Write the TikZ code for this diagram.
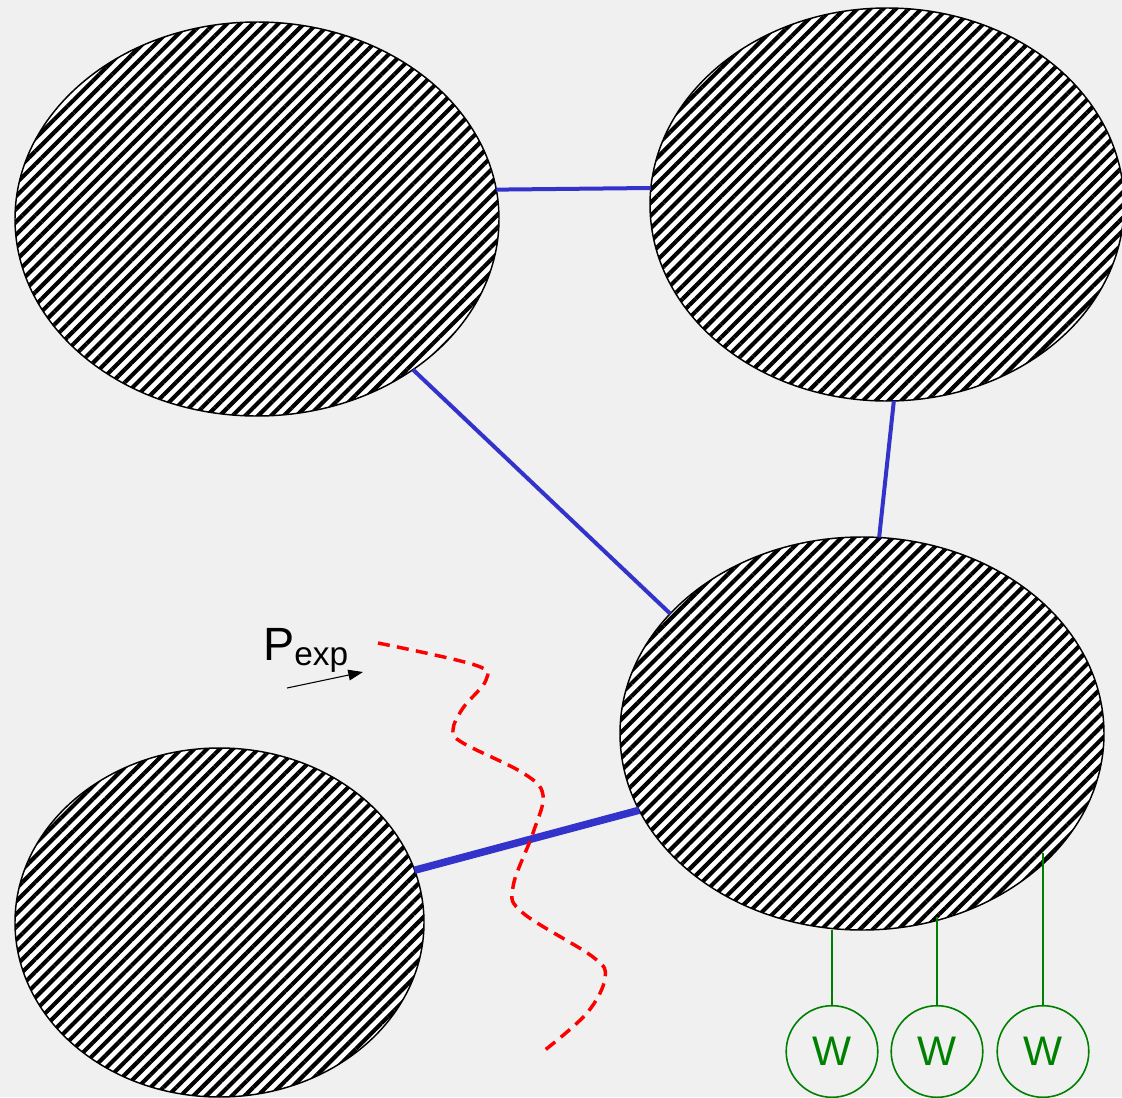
\documentclass[tikz,border=0pt]{standalone}
\usepackage{fontspec}
\setmainfont{Liberation Sans}
\usetikzlibrary{patterns.meta,arrows.meta,shapes.geometric}
\definecolor{bg}{HTML}{F0F0F0}
\definecolor{linkblue}{HTML}{3333CC}
\definecolor{wgreen}{HTML}{008000}
\begin{document}
\begin{tikzpicture}[x=0.75pt,y=-0.75pt,
  hatched/.style={ellipse, draw=black, line width=1.1pt, inner sep=0pt, outer sep=0pt,
    preaction={fill=white}, pattern={Lines[angle=45,distance=6.8pt,line width=3.1pt]}},
  link/.style={draw=linkblue, line width=3pt},
  thicklink/.style={draw=linkblue, line width=5.6pt},
  wnode/.style={circle, draw=wgreen, line width=1.2pt, minimum size=68.7pt, inner sep=0pt,
    outer sep=0pt, text=wgreen, font=\fontsize{31}{31}\selectfont},
  wline/.style={draw=wgreen, line width=1.5pt},
  cutline/.style={draw=red, line width=2.6pt, dash pattern=on 9pt off 5.5pt}]
\useasboundingbox (0,0) rectangle (1122,1097);
\fill[bg] (0,0) rectangle (1122,1097);
\clip (0,0) rectangle (1122,1097);

% ellipses
\node[hatched, minimum width=363pt, minimum height=295.5pt] (tl) at (257,219) {};
\node[hatched, minimum width=355.5pt, minimum height=294.75pt] (tr) at (887,204.5) {};
\node[hatched, minimum width=363pt, minimum height=294.75pt] (rm) at (862,733.5) {};
\node[hatched, minimum width=306.75pt, minimum height=261.75pt] (bl) at (219.5,922.5) {};

% blue links
\draw[link] (tl.7.4) -- (tr.176);
\draw[link] (tl.-44.8) -- (rm.148.4);
\draw[link] (tr.-88.8) -- (rm.85.3);
\draw[thicklink] (bl.15.8) -- (rm.-161.3);

% W nodes
\node[wnode] (w1) at (832,1051.5) {W};
\node[wnode] (w2) at (937,1051.5) {W};
\node[wnode] (w3) at (1043,1051.5) {W};
\coordinate (g1) at (832,930);
\coordinate (g2) at (937,917);
\coordinate (g3) at (1043,853);
\draw[wline] (w1.north) -- (g1);
\draw[wline] (w2.north) -- (g2);
\draw[wline] (w3.north) -- (g3);

% P_exp label and arrow
\node[anchor=base west, inner sep=0pt, font=\fontsize{35}{35}\selectfont] (plabel) at (263,660)
  {P\raisebox{-3.75pt}{\fontsize{25}{25}\selectfont exp}};
\coordinate (pa) at (287,688);
\coordinate (pb) at (363,672);
\draw[-{Triangle[length=11pt,width=8pt]}, line width=0.8pt] (pa) -- (pb);

% red dashed cut
\draw[cutline] plot[smooth, tension=0.6] coordinates {
  (378,643) (475,665) (486,680) (463,708) (453,730) (463,743) (523,773) (543,795)
  (533,833) (513,887) (523,913) (593,957) (605,978) (587,1013) (545,1050)};
\end{tikzpicture}
\end{document}
